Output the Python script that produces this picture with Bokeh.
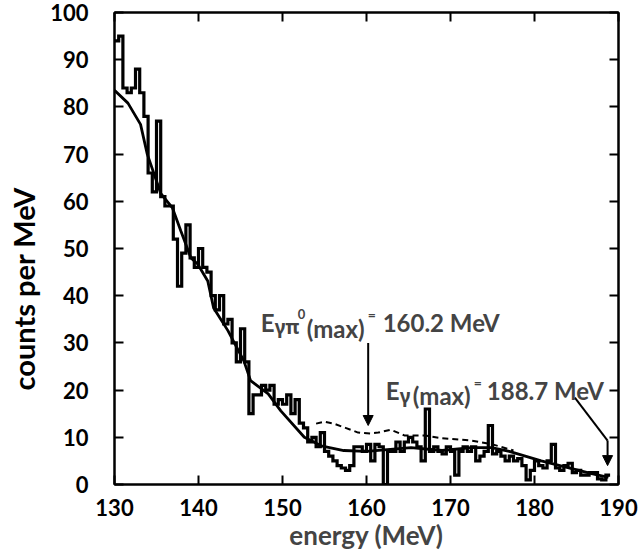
import numpy as np
from bokeh.plotting import figure
from bokeh.models import Range1d, LinearAxis, Label, Arrow, NormalHead, FixedTicker, Title
from bokeh.embed import file_html
from bokeh.resources import INLINE

# ---------------- data ----------------
bin_start = 130.0
bin_width = 0.5
counts = [
    94, 95, 84, 83, 84, 88, 83, 78, 66, 62,      # 130.0 - 134.5
    77, 61, 59, 59, 52, 42, 49, 55, 48, 46,      # 135.0 - 139.5
    50, 46, 45, 40, 37, 40, 34, 35, 30, 26,      # 140.0 - 144.5
    33, 26, 15, 19, 19, 21, 20, 21, 17, 18,      # 145.0 - 149.5
    17, 19, 15, 18, 13, 12, 9, 10, 8, 11,        # 150.0 - 154.5
    7, 6, 5, 4, 3.5, 3, 4, 8, 8, 7,              # 155.0 - 159.5
    8.5, 5, 8.5, 8, 0, 7, 7, 9, 7, 9,            # 160.0 - 164.5
    10, 9, 8, 5, 16, 7, 8, 7, 6.5, 8,            # 165.0 - 169.5
    7, 2, 7, 8, 7, 8, 5, 6, 7, 12.5,             # 170.0 - 174.5
    6.5, 7, 6, 5, 6, 5, 5.5, 4, 1, 3,            # 175.0 - 179.5
    5, 4, 3.5, 5, 8.5, 3.5, 3, 4, 4.5, 2.5,      # 180.0 - 184.5
    3, 2, 2, 2.5, 2.5, 1.2, 1, 2,                # 185.0 - 188.5
]

fit_energy = [130.0, 131.6, 133.1, 133.9, 135.5, 136.9, 137.9, 139.1, 139.9,
              141.1, 141.8, 143.5, 145.4, 146.2, 148.3, 149.8, 152.6, 154.6,
              157.3, 160.0, 165.3, 169.0, 172.5, 174.9, 177.0, 180.8, 183.5,
              186.8, 188.8]
fit_counts = [83.5, 80.8, 76.3, 70.0, 61.7, 58.6, 53.7, 48.0, 46.7,
              43.1, 37.4, 32.6, 26.2, 22.0, 19.2, 15.6, 10.0, 8.2,
              7.2, 7.0, 7.8, 7.2, 7.8, 7.8, 7.0, 5.0, 3.8,
              2.3, 1.5]

dash_energy = [154.0, 155.0, 156.1, 157.5, 159.0, 160.5, 161.4, 162.9,
               164.5, 166.9, 169.0, 172.5, 175.0, 177.5]
dash_counts = [12.9, 13.3, 12.9, 12.0, 11.0, 10.8, 11.0, 11.6,
               10.4, 10.4, 9.8, 9.3, 8.5, 7.2]

x_ticks = [130, 140, 150, 160, 170, 180, 190]
y_ticks = [0, 10, 20, 30, 40, 50, 60, 70, 80, 90, 100]

E_pi0_max = 160.2
E_gamma_max = 188.7
pi0_arrow_counts = [30.0, 12.5]
gamma_arrow_x = [184.8, E_gamma_max, E_gamma_max]
gamma_arrow_y = [18.4, 9.3, 4.0]

FONT = "Lato"
GREEK_FONT = "Noto Sans"

# ---------------- figure ----------------
p = figure(width=638, height=556, frame_width=504, frame_height=472,
           x_range=Range1d(130, 190), y_range=Range1d(0, 100),
           output_backend="svg", toolbar_location=None,
           min_border_left=112, min_border_right=22,
           min_border_top=12, min_border_bottom=72)
p.background_fill_color = "white"
p.border_fill_color = "white"
p.outline_line_color = "black"
p.outline_line_width = 2
p.xgrid.visible = False
p.ygrid.visible = False

for ax in (p.xaxis[0], p.yaxis[0]):
    ax.major_tick_in = 9
    ax.major_tick_out = 0
    ax.minor_tick_in = 0
    ax.minor_tick_out = 0
    ax.axis_line_width = 2
    ax.major_tick_line_width = 2
    ax.major_label_text_font = FONT
    ax.major_label_text_font_size = "22px"
    ax.major_label_text_font_style = "bold"
    ax.major_label_text_color = "black"

p.xaxis[0].ticker = FixedTicker(ticks=x_ticks)
p.yaxis[0].ticker = FixedTicker(ticks=y_ticks)
p.xaxis[0].major_label_standoff = 14
p.yaxis[0].major_label_standoff = 26
p.xaxis[0].axis_label = "energy (MeV)"
p.xaxis[0].axis_label_text_font = FONT
p.xaxis[0].axis_label_text_font_size = "26px"
p.xaxis[0].axis_label_text_font_style = "bold"
p.xaxis[0].axis_label_standoff = 0

for loc, tk in (("right", y_ticks), ("above", x_ticks)):
    ax = LinearAxis(ticker=FixedTicker(ticks=tk))
    ax.major_tick_in = 9
    ax.major_tick_out = 0
    ax.minor_tick_in = 0
    ax.minor_tick_out = 0
    ax.axis_line_width = 2
    ax.major_tick_line_width = 2
    ax.major_label_overrides = {t: "" for t in tk}
    ax.major_label_standoff = 0
    p.add_layout(ax, loc)

# y-axis title, placed where the original has it (a little below centre)
ytitle = Title(text="counts per MeV", align="left", offset=94,
               vertical_align="top", standoff=10,
               text_font=FONT, text_font_size="29px", text_font_style="bold",
               text_color="black")
p.add_layout(ytitle, "left")

# ---------------- data marks ----------------
edges = bin_start + bin_width * np.arange(len(counts) + 1)
step_y = list(counts) + [counts[-1]]
p.step(edges, step_y, mode="after", line_color="black", line_width=3.2,
       line_join="miter")
p.line(fit_energy, fit_counts, line_color="black", line_width=2.8)
p.line(dash_energy, dash_counts, line_color="black", line_width=2,
       line_dash="6 4")

# ---------------- annotations ----------------
p.add_layout(Arrow(x_start=E_pi0_max, y_start=pi0_arrow_counts[0],
                   x_end=E_pi0_max, y_end=pi0_arrow_counts[1],
                   line_width=2, line_color="black",
                   end=NormalHead(size=10, fill_color="black", line_color="black")))
p.line(gamma_arrow_x[:2], gamma_arrow_y[:2], line_color="black", line_width=2)
p.add_layout(Arrow(x_start=gamma_arrow_x[1], y_start=gamma_arrow_y[1],
                   x_end=gamma_arrow_x[2], y_end=gamma_arrow_y[2],
                   line_width=2, line_color="black",
                   end=NormalHead(size=10, fill_color="black", line_color="black")))


def piece(x, y, dx, dy, txt, size, font=FONT):
    p.add_layout(Label(x=x, y=y, x_offset=dx, y_offset=dy, text=txt,
                       text_font=font, text_font_size=size,
                       text_font_style="bold", text_align="left",
                       text_baseline="alphabetic"))


# E_{gamma pi0}(max) = 160.2 MeV
ax1, ay1 = 147.4, 34.3
piece(ax1, ay1, 0, 0, "E", "24px")
piece(ax1, ay1, 14, -4, "\u03b3\u03c0", "19px", GREEK_FONT)
piece(ax1, ay1, 37, 9, "0", "13px")
piece(ax1, ay1, 46, -6, "(max)", "24px")
piece(ax1, ay1, 107, 8, "=", "14px")
piece(ax1, ay1, 122, 0, "160.2 MeV", "24px")

# E_gamma(max) = 188.7 MeV
ax2, ay2 = 162.3, 19.9
piece(ax2, ay2, 0, 0, "E", "24px")
piece(ax2, ay2, 14, -5, "\u03b3", "19px", GREEK_FONT)
piece(ax2, ay2, 27, -5, "(max)", "24px")
piece(ax2, ay2, 88, 8, "=", "14px")
piece(ax2, ay2, 101, 0, "188.7 MeV", "24px")

open("out.html", "w").write(file_html(p, INLINE))
